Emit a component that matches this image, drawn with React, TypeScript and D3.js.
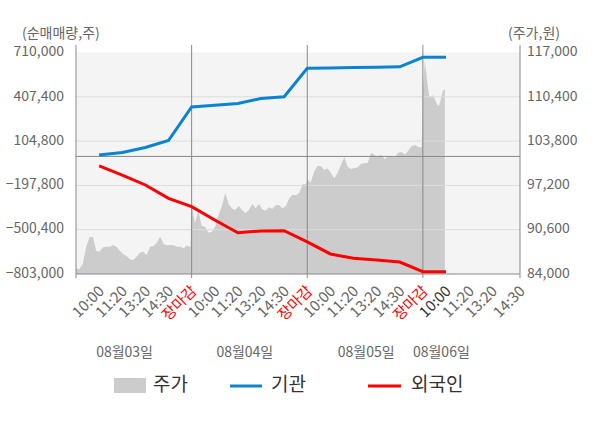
import React from 'react';
import * as d3 from 'd3';

const leftTicks = [710000, 407400, 104800, -197800, -500400, -803000];
const rightTicks = [117000, 110400, 103800, 97200, 90600, 84000];

const timeLabels = [
  '10:00', '11:20', '13:20', '14:30', '장마감',
  '10:00', '11:20', '13:20', '14:30', '장마감',
  '10:00', '11:20', '13:20', '14:30', '장마감',
  '10:00', '11:20', '13:20', '14:30',
];
const timePos = [
  0.2, 0.4, 0.6, 0.8, 1.0,
  1.2, 1.4, 1.6, 1.8, 2.0,
  2.2, 2.4, 2.6, 2.8, 3.0,
  3.2, 3.4, 3.6, 3.84,
];
const dayLabels = ['08월03일', '08월04일', '08월05일', '08월06일'];
const dayLabelPos = [0.42, 1.46, 2.51, 3.16];
const dayBounds = [1, 2, 3];

// 기관 / 외국인 cumulative net volume at each time slot (10:00 day1 ... 10:00 day4)
const linePos = [0.2, 0.4, 0.6, 0.8, 1.0, 1.2, 1.4, 1.6, 1.8, 2.0, 2.2, 2.4, 2.6, 2.8, 3.0, 3.2];
const institution = [10000, 27000, 61000, 109000, 338000, 349000, 362000, 396000, 408000, 602000, 604000, 608000, 610000, 612000, 677000, 677000];
const foreign = [-65000, -127000, -195000, -286000, -343000, -434000, -521000, -509000, -507000, -584000, -666000, -696000, -707000, -721000, -787000, -787000];

// 주가 intraday
const priceDay1 = [84840, 84700, 85490, 87970, 89460, 89560, 87480, 87330, 87970, 88070, 88070, 88320, 88070, 87480, 86980, 86680, 86190, 86090, 86580, 87180, 87330, 86830, 88070, 88170, 88670, 89560, 88470, 88270, 88320, 88270, 88070, 88070, 87820, 88270, 87970];
const priceDay2 = [94280, 91550, 93440, 91150, 91050, 90160, 90310, 91050, 92790, 94130, 96120, 94430, 93730, 93530, 94130, 93530, 93040, 93530, 94430, 93780, 94430, 93630, 93440, 93930, 93730, 94230, 94280, 93780, 94130, 95270, 95820, 95720, 96120, 97410, 97360];
const priceDay3 = [98100, 97610, 99200, 100090, 100090, 99490, 99740, 99100, 98250, 99000, 100240, 101380, 99990, 99640, 99790, 99890, 100440, 100490, 100590, 102080, 101730, 101480, 101780, 101080, 101530, 101480, 101380, 102080, 102180, 101780, 102370, 103070, 103220, 102920, 102870];
const priceDay4 = [111160, 115880, 113150, 110670, 110320, 110670, 110020, 109330, 109030, 110020, 111260, 111560];

const FONT = '"Noto Sans CJK KR", "Noto Sans", sans-serif';

export default function App() {
  const L = 76, R = 520, T = 52.5, B = 274;
  const x = d3.scaleLinear().domain([0, 3.84]).range([L, R]);
  const yL = d3.scaleLinear().domain([-803000, 710000]).range([B, T]);
  const yR = d3.scaleLinear().domain([84000, 117000]).range([B, T]);

  const price: [number, number][] = [];
  [priceDay1, priceDay2, priceDay3].forEach((arr, di) => {
    arr.forEach((v, k) => price.push([di + (k / (arr.length - 1)) * 0.99, v]));
  });
  priceDay4.forEach((v, k) => price.push([3.0 + k * 0.0173, v]));

  const area = d3.area<[number, number]>()
    .x(d => x(d[0]))
    .y0(B)
    .y1(d => yR(d[1]));

  const line = d3.line<number>()
    .x((_, i) => x(linePos[i]))
    .y(d => yL(d));

  const fmt = d3.format(',');

  return (
    <svg width={600} height={428} style={{ position: 'absolute', left: 0, top: 0, fontFamily: FONT }}>
      <rect x={0} y={0} width={600} height={428} fill="#fff" />
      <rect x={L} y={T} width={R - L} height={B - T} fill="#f4f4f4" />
      <path d={area(price) || ''} fill="#cccccc" />
      {leftTicks.slice(1, -1).map((t, i) => (
        <line key={'g' + i} x1={L} x2={R} y1={yL(t)} y2={yL(t)} stroke="#dcdcdc" strokeWidth={1} />
      ))}
      <line x1={L} x2={R} y1={yL(0)} y2={yL(0)} stroke="#888" strokeWidth={1} />
      {dayBounds.map((d, i) => (
        <line key={'v' + i} x1={x(d)} x2={x(d)} y1={45} y2={278} stroke="#888" strokeWidth={1} />
      ))}
      <line x1={L} x2={L} y1={45} y2={278} stroke="#888" strokeWidth={1} />
      <line x1={R} x2={R} y1={45} y2={278} stroke="#888" strokeWidth={1} />
      <line x1={L} x2={R} y1={B} y2={B} stroke="#888" strokeWidth={1} />

      <path d={line(institution) || ''} fill="none" stroke="#0a84d0" strokeWidth={3} />
      <path d={line(foreign) || ''} fill="none" stroke="#ff0000" strokeWidth={3} />

      {leftTicks.map((t, i) => (
        <text key={'lt' + i} x={64} y={yL(t)} textAnchor="end" dominantBaseline="middle" fontSize={14} fill="#666">{fmt(t)}</text>
      ))}
      {rightTicks.map((t, i) => (
        <text key={'rt' + i} x={527} y={yR(t)} textAnchor="start" dominantBaseline="middle" fontSize={14} fill="#666">{fmt(t)}</text>
      ))}
      <text x={22} y={34} fontSize={14} fill="#666" dominantBaseline="middle">(순매매량,주)</text>
      <text x={508} y={34} fontSize={14} fill="#666" dominantBaseline="middle">(주가,원)</text>

      {timeLabels.map((t, i) => {
        const px = x(timePos[i]) + 6;
        const py = 292;
        const color = t === '장마감' ? '#ff0000' : (i === 15 ? '#333' : '#666');
        return (
          <text key={'tl' + i} x={px} y={py} textAnchor="end" fontSize={15} fill={color}
            transform={`rotate(-45 ${px} ${py})`}>{t}</text>
        );
      })}
      {dayLabels.map((t, i) => (
        <text key={'dl' + i} x={x(dayLabelPos[i])} y={353} textAnchor="middle" dominantBaseline="middle" fontSize={14} fill="#666">{t}</text>
      ))}

      <rect x={114} y={378} width={32} height={15} fill="#cccccc" />
      <text x={153} y={386} fontSize={19} fill="#333" dominantBaseline="middle">주가</text>
      <line x1={230} x2={262} y1={386} y2={386} stroke="#0a84d0" strokeWidth={3} />
      <text x={271} y={386} fontSize={19} fill="#333" dominantBaseline="middle">기관</text>
      <line x1={368} x2={401} y1={386} y2={386} stroke="#ff0000" strokeWidth={3} />
      <text x={411} y={386} fontSize={19} fill="#333" dominantBaseline="middle">외국인</text>
    </svg>
  );
}
